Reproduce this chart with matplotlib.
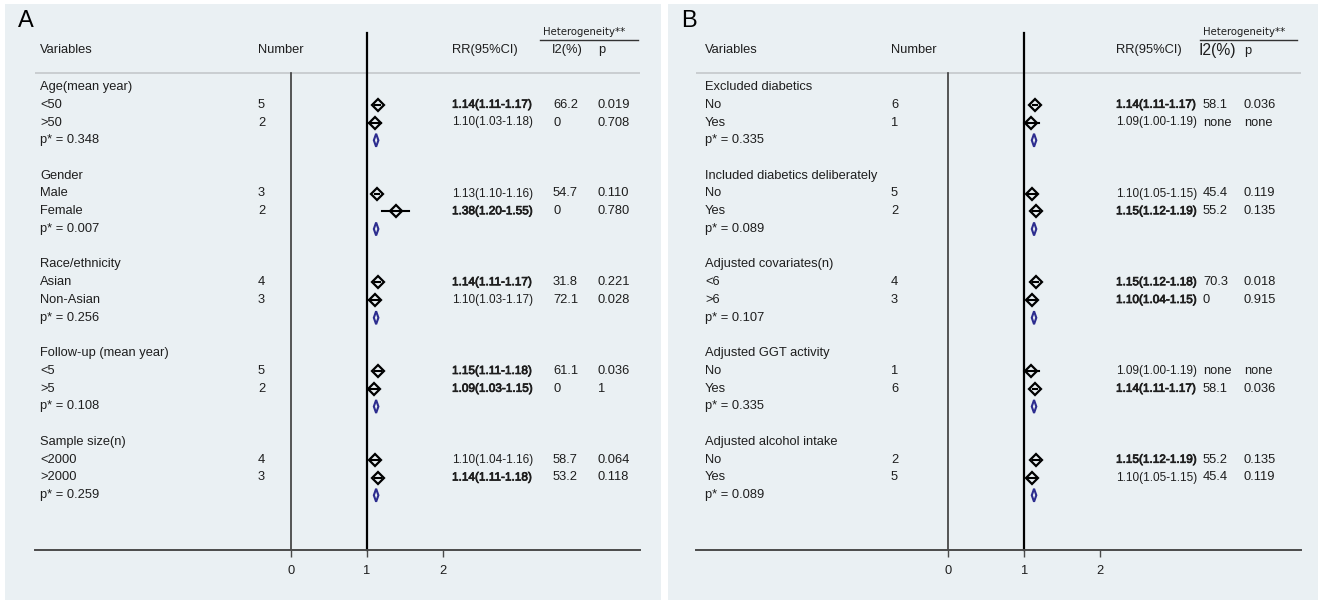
import matplotlib
matplotlib.use("Agg")
import matplotlib.pyplot as plt
from matplotlib.patches import Polygon
import matplotlib.patheffects as pe

# ---------------- data ----------------
A_groups = ["Age(mean year)", "Gender", "Race/ethnicity", "Follow-up (mean year)", "Sample size(n)"]
A_sub = [["<50", ">50"], ["Male", "Female"], ["Asian", "Non-Asian"], ["<5", ">5"], ["<2000", ">2000"]]
A_n = [[5, 2], [3, 2], [4, 3], [5, 2], [4, 3]]
A_rr = [[1.14, 1.10], [1.13, 1.38], [1.14, 1.10], [1.15, 1.09], [1.10, 1.14]]
A_lo = [[1.11, 1.03], [1.10, 1.20], [1.11, 1.03], [1.11, 1.03], [1.04, 1.11]]
A_hi = [[1.17, 1.18], [1.16, 1.55], [1.17, 1.17], [1.18, 1.15], [1.16, 1.18]]
A_bold = [[True, False], [False, True], [True, False], [True, True], [False, True]]
A_i2 = [["66.2", "0"], ["54.7", "0"], ["31.8", "72.1"], ["61.1", "0"], ["58.7", "53.2"]]
A_p = [["0.019", "0.708"], ["0.110", "0.780"], ["0.221", "0.028"], ["0.036", "1"], ["0.064", "0.118"]]
A_pint = ["0.348", "0.007", "0.256", "0.108", "0.259"]
A_pool = [1.12, 1.12, 1.12, 1.12, 1.12]
A_pool_lo = [1.09, 1.09, 1.09, 1.09, 1.09]
A_pool_hi = [1.15, 1.15, 1.15, 1.15, 1.15]

B_groups = ["Excluded diabetics", "Included diabetics deliberately", "Adjusted covariates(n)",
            "Adjusted GGT activity", "Adjusted alcohol intake"]
B_sub = [["No", "Yes"], ["No", "Yes"], ["<6", ">6"], ["No", "Yes"], ["No", "Yes"]]
B_n = [[6, 1], [5, 2], [4, 3], [1, 6], [2, 5]]
B_rr = [[1.14, 1.09], [1.10, 1.15], [1.15, 1.10], [1.09, 1.14], [1.15, 1.10]]
B_lo = [[1.11, 1.00], [1.05, 1.12], [1.12, 1.04], [1.00, 1.11], [1.12, 1.05]]
B_hi = [[1.17, 1.19], [1.15, 1.19], [1.18, 1.15], [1.19, 1.17], [1.19, 1.15]]
B_bold = [[True, False], [False, True], [True, True], [False, True], [True, False]]
B_i2 = [["58.1", "none"], ["45.4", "55.2"], ["70.3", "0"], ["none", "58.1"], ["55.2", "45.4"]]
B_p = [["0.036", "none"], ["0.119", "0.135"], ["0.018", "0.915"], ["none", "0.036"], ["0.135", "0.119"]]
B_pint = ["0.335", "0.089", "0.107", "0.335", "0.089"]
B_pool = [1.13, 1.13, 1.13, 1.13, 1.13]
B_pool_lo = [1.10, 1.10, 1.10, 1.10, 1.10]
B_pool_hi = [1.16, 1.16, 1.16, 1.16, 1.16]

x_ticks = [0, 1, 2]

# ---------------- style ----------------
plt.rcParams["font.family"] = ["Liberation Sans", "DejaVu Sans"]
FS = 9.3
FS_RR = 8.5
BG = "#EAF0F3"
TXT = "#1e1e1e"
NAVY = "#2d2d8f"
BOLD_FX = [pe.withStroke(linewidth=0.55, foreground=TXT)]

W, H = 1318, 602
fig = plt.figure(figsize=(W / 100, H / 100), dpi=100)
fig.patch.set_facecolor("white")


def panel(letter, px_left, px_right, px0, scale, groups, sub, ns, rr, lo, hi, bold, i2, pv,
          pint, pool, pool_lo, pool_hi, cols, big_i2=False):
    top, bottom = 4, 600
    bg = fig.add_axes([px_left / W, (H - bottom) / H, (px_right - px_left) / W, (bottom - top) / H])
    bg.set_facecolor(BG)
    bg.set_xticks([]); bg.set_yticks([])
    for s in bg.spines.values():
        s.set_visible(False)

    ax_l, ax_r, ax_b, ax_t = cols["axis_l"], cols["axis_r"], 550, 4
    ax = fig.add_axes([ax_l / W, (H - ax_b) / H, (ax_r - ax_l) / W, (ax_b - ax_t) / H])
    ax.patch.set_alpha(0)
    ax.set_xlim((ax_l - px0) / scale, (ax_r - px0) / scale)
    ax.set_ylim(ax_b, ax_t)
    for k in ["top", "left", "right"]:
        ax.spines[k].set_visible(False)
    ax.spines["bottom"].set_color("#4a4a4a")
    ax.spines["bottom"].set_linewidth(1.4)
    ax.set_yticks([])
    ax.set_xticks(x_ticks)
    ax.set_xticklabels([str(t) for t in x_ticks])
    ax.tick_params(axis="x", direction="out", length=5, width=1.0, color="#4a4a4a",
                   labelsize=FS, labelcolor=TXT, pad=6)

    def X(px):
        return (px - px0) / scale

    # letter
    ax.text(X(px_left + 13), 21, letter, fontsize=17, color="black", va="center", ha="left",
            clip_on=False)

    # header
    hy = 50
    ax.text(X(cols["var"]), hy, "Variables", fontsize=FS, color=TXT, va="center")
    ax.text(X(cols["num"]), hy, "Number", fontsize=FS, color=TXT, va="center")
    ax.text(X(cols["rr"]), hy, "RR(95%CI)", fontsize=FS, color=TXT, va="center")
    ax.text(X(cols["i2"]), hy, "I2(%)", fontsize=FS * (1.22 if big_i2 else 1.0), color=TXT,
            va="center")
    ax.text(X(cols["p"]), hy + (1 if big_i2 else 0), "p", fontsize=FS, color=TXT, va="center")
    ax.text(X(cols["het_l"] + 3), 32, "Heterogeneity**", fontsize=7.3, color=TXT, va="center",
            family=["DejaVu Sans"])
    ax.plot([X(cols["het_l"]), X(cols["het_r"])], [40, 40], color="#333333", lw=1.0, clip_on=False)

    # separator and reference lines
    ax.axhline(73, color="#c4c8cb", lw=1.2)
    ax.plot([0, 0], [73, ax_b], color="#3a3a3a", lw=1.2)
    ax.plot([1, 1], [33, ax_b], color="black", lw=1.6, clip_on=False)

    y0, dy = 87, 17.75
    for g in range(len(groups)):
        base = y0 + g * 5 * dy
        ax.text(X(cols["var"]), base, groups[g], fontsize=FS, color=TXT, va="center")
        for j in range(2):
            yy = base + (j + 1) * dy
            ax.text(X(cols["var"]), yy, sub[g][j], fontsize=FS, color=TXT, va="center")
            ax.text(X(cols["num"]), yy, str(ns[g][j]), fontsize=FS, color=TXT, va="center")
            lab = f"{rr[g][j]:.2f}({lo[g][j]:.2f}-{hi[g][j]:.2f})"
            ax.text(X(cols["rr"]), yy, lab, fontsize=FS_RR, color=TXT, va="center",
                    path_effects=BOLD_FX if bold[g][j] else None)
            ax.text(X(cols["i2v"]), yy, i2[g][j], fontsize=FS, color=TXT, va="center")
            ax.text(X(cols["p"]), yy, pv[g][j], fontsize=FS, color=TXT, va="center")
            ax.plot([lo[g][j], hi[g][j]], [yy, yy], color="black", lw=1.5, zorder=3)
            ax.plot([rr[g][j]], [yy], marker="D", ms=6.0, mfc="none", mec="black", mew=1.6,
                    zorder=4)
        yp = base + 3 * dy
        ax.text(X(cols["var"]), yp, f"p* = {pint[g]}", fontsize=FS, color=TXT, va="center")
        c = pool[g]
        hh = 6.5
        poly = Polygon([[pool_lo[g], yp], [c, yp - hh], [pool_hi[g], yp], [c, yp + hh]],
                       closed=True, fill=False, edgecolor=NAVY, lw=1.5, zorder=4)
        ax.add_patch(poly)
    return ax


colsA = dict(axis_l=35, axis_r=640, var=40, num=258, rr=452, i2=552, i2v=553, p=598,
             het_l=540, het_r=638)
panel("A", 5, 661, 291, 76.0, A_groups, A_sub, A_n, A_rr, A_lo, A_hi, A_bold, A_i2, A_p,
      A_pint, A_pool, A_pool_lo, A_pool_hi, colsA)

colsB = dict(axis_l=696, axis_r=1301, var=705, num=891, rr=1116, i2=1199, i2v=1203, p=1244,
             het_l=1200, het_r=1297)
panel("B", 668, 1318, 948.5, 75.7, B_groups, B_sub, B_n, B_rr, B_lo, B_hi, B_bold, B_i2, B_p,
      B_pint, B_pool, B_pool_lo, B_pool_hi, colsB, big_i2=True)

fig.savefig("out.png", dpi=100, facecolor="white")
